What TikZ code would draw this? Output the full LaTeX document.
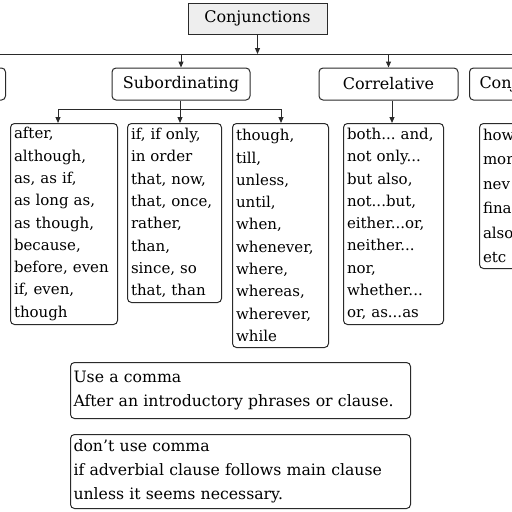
\documentclass[tikz,border=0pt]{standalone}
\usepackage{fontspec}
\setmainfont{DejaVu Serif}
\usetikzlibrary{arrows.meta}
\definecolor{ink}{HTML}{2A2A2A}
\definecolor{hdrfill}{HTML}{EEEEEE}
\begin{document}
\begin{tikzpicture}[x=1pt,y=-1pt,
  line width=1pt, draw=ink,
  arr/.style={-{Triangle[length=6pt,width=5pt]}},
  big/.style={font=\fontsize{15}{22.3}\selectfont},
  head/.style={font=\fontsize{16}{20}\selectfont},
  catbox/.style={draw=ink, rounded corners=4pt, minimum width=138pt, minimum height=32pt, inner sep=0pt, head},
  listbox/.style={draw=ink, rounded corners=4pt, anchor=north west, align=left, inner xsep=3.5pt, inner ysep=0pt, big},
  notebox/.style={draw=ink, rounded corners=4pt, anchor=north west, align=left, inner xsep=3pt, inner ysep=0pt, font=\fontsize{15.7}{24}\selectfont, text width=334pt}
]
\useasboundingbox (0,0) rectangle (512,512);
\clip (0,0) rectangle (512,512);

% top node
\node[draw=ink, fill=hdrfill, minimum width=139pt, minimum height=31pt, inner sep=0pt, head] (conj) at (257.5,18.5) {Conjunctions};

% bus
\coordinate (busL) at (-5,54);
\coordinate (busR) at (520,54);
\draw (busL) -- (busR);

% category boxes
\node[catbox, anchor=east] (coord) at (6,84) {};
\node[catbox] (sub) at (181,84) {Subordinating};
\node[catbox, minimum width=139pt] (corr) at (388.5,84) {Correlative};
\node[catbox, anchor=west, text width=119pt, align=left, inner xsep=10pt] (adv) at (469,84) {Conj};

\draw[arr] (conj.south) -- (conj.south |- busL);
\draw[arr] (sub.north |- busL) -- (sub.north);
\draw[arr] (corr.north |- busL) -- (corr.north);

% list boxes
\node[listbox, text width=100pt, minimum height=201pt] (l1) at (10,123) {after,\\although,\\as, as if,\\as~long~as,\\as~though,\\because,\\before,~even\\if, even,\\though};
\node[listbox, text width=87pt, minimum height=179pt] (l2) at (127,123) {if,~if~only,\\in~order\\that,~now,\\that,~once,\\rather,\\than,\\since,~so\\that,~than};
\node[listbox, text width=89pt, minimum height=224pt] (l3) at (232,123) {though,\\till,\\unless,\\until,\\when,\\whenever,\\where,\\whereas,\\wherever,\\while};
\node[listbox, text width=93pt, minimum height=201pt] (l4) at (343,123) {both...~and,\\not~only...\\but~also,\\not...but,\\either...or,\\neither...\\nor,\\whether...\\or,~as...as};
\node[listbox, text width=90pt, minimum height=145pt, font=\fontsize{15}{24.5}\selectfont] (l5) at (479,123) {how\\mor\\nev\\fina\\also\\etc};

% subordinating branches
\coordinate (sbL) at (58,109);
\coordinate (sbM) at (180,109);
\coordinate (sbR) at (281,109);
\draw (sub.south -| sbM) -- (sbM);
\draw (sbL) -- (sbR);
\draw[arr] (sbL) -- (sbL |- l1.north);
\draw[arr] (sbM) -- (sbM |- l2.north);
\draw[arr] (sbR) -- (sbR |- l3.north);
\draw[arr] (corr.south -| 392,0) -- (l4.north -| 392,0);

% notes
\node[notebox, minimum height=56pt] (n1) at (70,362) {Use a comma\\After an introductory phrases or clause.};
\node[notebox, minimum height=74pt] (n2) at (70,434) {don't use comma\\if adverbial clause follows main clause\\unless it seems necessary.};
\end{tikzpicture}
\end{document}
